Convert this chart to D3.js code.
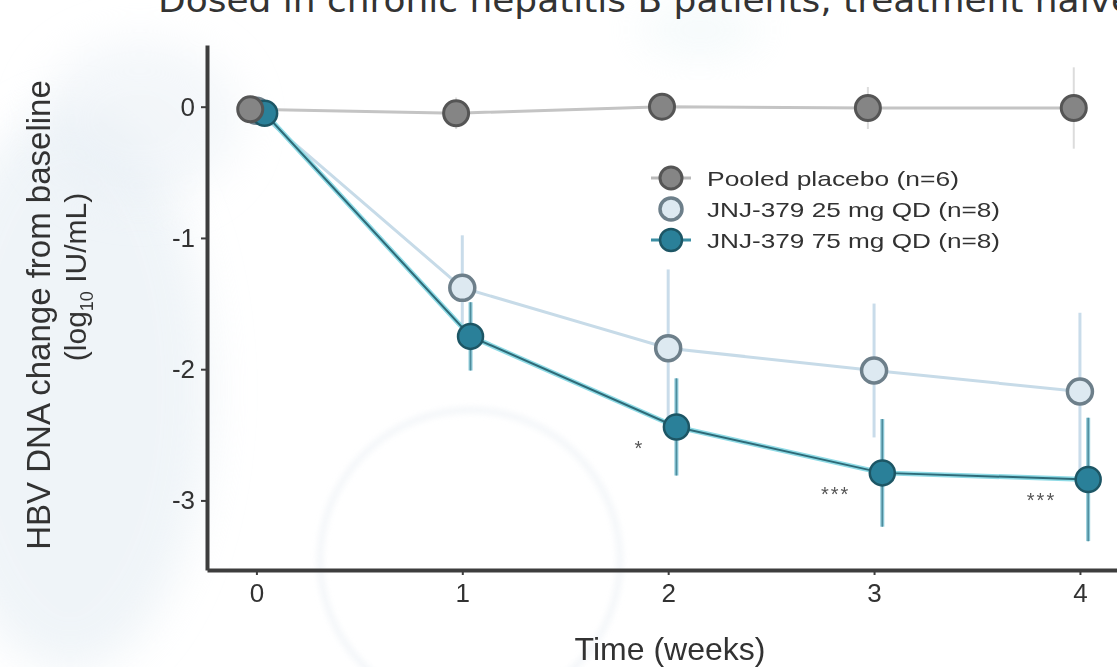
<!DOCTYPE html>
<html>
<head>
<meta charset="utf-8">
<script src="https://cdn.jsdelivr.net/npm/d3@7"></script>
<style>
  html, body { margin: 0; padding: 0; background: #ffffff; }
  svg { display: block; }
</style>
</head>
<body>
<svg id="chart" width="1117" height="667"></svg>
<script>
// Study visits (weeks) and mean change from baseline in HBV DNA (log10 IU/mL)
const weeks = [0, 1, 2, 3, 4];
const placeboMean = [-0.02, -0.05, 0.00, -0.01, -0.01];
const placeboSD   = [0, 0.12, 0.10, 0.16, 0.31];
const dose25Mean  = [-0.03, -1.38, -1.84, -2.01, -2.17];
const dose25SD    = [0, 0.40, 0.60, 0.51, 0.60];
const dose75Mean  = [-0.05, -1.75, -2.44, -2.79, -2.84];
const dose75SD    = [0, 0.26, 0.37, 0.41, 0.47];
const significance = ["", "", "*", "***", "***"];

const seriesNames = ["Pooled placebo (n=6)", "JNJ-379 25 mg QD (n=8)", "JNJ-379 75 mg QD (n=8)"];
const yTicks = [0, -1, -2, -3];
const xTicks = [0, 1, 2, 3, 4];
const titleText = "Dosed in chronic hepatitis B patients, treatment naïve";

const svg = d3.select("#chart");
const W = 1117, H = 667;

const defs = svg.append("defs");
defs.append("filter").attr("id", "soft")
  .attr("x", "-5%").attr("y", "-5%").attr("width", "110%").attr("height", "110%")
  .append("feGaussianBlur").attr("stdDeviation", 0.75);
defs.append("filter").attr("id", "haze")
  .attr("x", "-50%").attr("y", "-50%").attr("width", "200%").attr("height", "200%")
  .append("feGaussianBlur").attr("stdDeviation", 22);
defs.append("filter").attr("id", "faint")
  .append("feGaussianBlur").attr("stdDeviation", 3);

// faint slide backdrop
const bg = svg.append("g");
bg.append("rect").attr("width", W).attr("height", H).attr("fill", "#ffffff");
bg.append("ellipse").attr("cx", 70).attr("cy", 390).attr("rx", 140).attr("ry", 280)
  .attr("fill", "#e3ecf3").attr("opacity", 0.55).attr("filter", "url(#haze)");
bg.append("ellipse").attr("cx", 140).attr("cy", 120).attr("rx", 100).attr("ry", 80)
  .attr("fill", "#e8eff5").attr("opacity", 0.5).attr("filter", "url(#haze)");
bg.append("ellipse").attr("cx", 700).attr("cy", 30).attr("rx", 60).attr("ry", 25)
  .attr("fill", "#e6f3f5").attr("opacity", 0.45).attr("filter", "url(#haze)");
bg.append("circle").attr("cx", 470).attr("cy", 560).attr("r", 150)
  .attr("fill", "none").attr("stroke", "#e6ecf2").attr("stroke-width", 5)
  .attr("opacity", 0.6).attr("filter", "url(#faint)");

// slide heading, clipped at the top edge
svg.append("text")
  .attr("x", 158).attr("y", 12)
  .attr("font-family", "'DejaVu Sans', 'Liberation Sans', sans-serif")
  .attr("font-size", 34)
  .attr("fill", "#333333")
  .attr("textLength", 975).attr("lengthAdjust", "spacingAndGlyphs")
  .text(titleText);

const g = svg.append("g").attr("filter", "url(#soft)");

const x = d3.scaleLinear().domain([-0.24, 4.18]).range([207, 1117]);
const y = d3.scaleLinear().domain([0.47, -3.53]).range([45, 570]);

const dodge = { placebo: -0.03, d25: 0, d75: 0.04 };
const font = "'Liberation Sans', Arial, sans-serif";

// axes
const yAxis = g.append("g").attr("transform", `translate(${x.range()[0]},0)`)
  .call(d3.axisLeft(y).tickValues(yTicks).tickSize(6).tickSizeOuter(0)
    .tickFormat(d => d < 0 ? "-" + Math.abs(d) : String(d)));
const xAxis = g.append("g").attr("transform", `translate(0,${y.range()[1]})`)
  .call(d3.axisBottom(x).tickValues(xTicks).tickSize(5).tickSizeOuter(0)
    .tickFormat(d3.format("d")));

[yAxis, xAxis].forEach(a => {
  a.select(".domain").attr("stroke", "#3d3d3d").attr("stroke-width", 4);
  a.selectAll(".tick line").attr("stroke", "#3d3d3d").attr("stroke-width", 2);
  a.selectAll(".tick text").attr("font-family", font).attr("font-size", 26).attr("fill", "#333");
});
yAxis.selectAll(".tick text").attr("x", -12);
xAxis.selectAll(".tick text").attr("y", 14);

// axis titles
g.append("text")
  .attr("transform", `translate(50,${315}) rotate(-90)`)
  .attr("text-anchor", "middle")
  .attr("font-family", font).attr("font-size", 33).attr("fill", "#333")
  .text("HBV DNA change from baseline");
const yt2 = g.append("text")
  .attr("transform", `translate(86,${277}) rotate(-90)`)
  .attr("text-anchor", "middle")
  .attr("font-family", font).attr("font-size", 30).attr("fill", "#333");
yt2.append("tspan").text("(log");
yt2.append("tspan").attr("font-size", 18).attr("dy", 7).text("10");
yt2.append("tspan").attr("dy", -7).text(" IU/mL)");

g.append("text")
  .attr("x", 670).attr("y", 660)
  .attr("text-anchor", "middle")
  .attr("font-family", font).attr("font-size", 32).attr("fill", "#333")
  .text("Time (weeks)");

const rows = weeks.map((w, i) => ({
  w, i,
  p: placeboMean[i], pe: placeboSD[i],
  a: dose25Mean[i], ae: dose25SD[i],
  b: dose75Mean[i], be: dose75SD[i]
}));

const line = (key, off) => d3.line().x(d => x(d.w + off)).y(d => y(d[key]));

// error bars
function errBars(key, eKey, off, color, width) {
  g.append("g").selectAll("line")
    .data(rows.filter(d => d[eKey] > 0))
    .join("line")
    .attr("x1", d => x(d.w + off)).attr("x2", d => x(d.w + off))
    .attr("y1", d => y(d[key] + d[eKey])).attr("y2", d => y(d[key] - d[eKey]))
    .attr("stroke", color).attr("stroke-width", width);
}
errBars("p", "pe", dodge.placebo, "#dcdcdc", 2);
errBars("a", "ae", dodge.d25, "#c9dcea", 3);
errBars("b", "be", dodge.d75, "#8cc9d8", 4);
errBars("b", "be", dodge.d75, "#4f8c9c", 1.5);

// connecting lines
g.append("path").datum(rows).attr("d", line("p", dodge.placebo))
  .attr("fill", "none").attr("stroke", "#c4c4c4").attr("stroke-width", 3);
g.append("path").datum(rows).attr("d", line("a", dodge.d25))
  .attr("fill", "none").attr("stroke", "#c7dbe8").attr("stroke-width", 3);
g.append("path").datum(rows).attr("d", line("b", dodge.d75))
  .attr("fill", "none").attr("stroke", "#8fdbe6").attr("stroke-width", 5);
g.append("path").datum(rows).attr("d", line("b", dodge.d75))
  .attr("fill", "none").attr("stroke", "#2e6b78").attr("stroke-width", 2);

// markers
const R = 12.5;
function markers(key, off, fill, stroke, sw) {
  g.append("g").selectAll("circle").data(rows).join("circle")
    .attr("cx", d => x(d.w + off)).attr("cy", d => y(d[key]))
    .attr("r", R).attr("fill", fill).attr("stroke", stroke).attr("stroke-width", sw);
}
markers("a", dodge.d25, "#dde9f1", "#6d7f8a", 3.5);
markers("b", dodge.d75, "#2b8099", "#1f5665", 2.5);
markers("p", dodge.placebo, "#858585", "#555555", 3);

// significance marks
g.append("g").selectAll("text").data(rows.filter(d => significance[d.i]))
  .join("text")
  .attr("x", d => x(d.w + dodge.d75) - 32)
  .attr("y", d => y(d.b) + 28)
  .attr("text-anchor", "end")
  .attr("font-family", font).attr("font-size", 20).attr("fill", "#555")
  .attr("letter-spacing", 2)
  .text(d => significance[d.i]);

// legend
const legendStyle = [
  { line: "#b9b9b9", fill: "#858585", stroke: "#555555", sw: 3 },
  { line: "none", fill: "#dde9f1", stroke: "#6d7f8a", sw: 3.5 },
  { line: "#3a8ea3", fill: "#2b8099", stroke: "#1f5665", sw: 2.5 }
];
const legendTextLen = [252, 293, 293];
const lg = g.append("g").attr("transform", "translate(671,178)");
seriesNames.forEach((name, i) => {
  const row = lg.append("g").attr("transform", `translate(0,${i * 31})`);
  if (legendStyle[i].line !== "none") {
    row.append("line").attr("x1", -20).attr("x2", 20)
      .attr("stroke", legendStyle[i].line).attr("stroke-width", 3);
  }
  row.append("circle").attr("r", 11)
    .attr("fill", legendStyle[i].fill).attr("stroke", legendStyle[i].stroke)
    .attr("stroke-width", legendStyle[i].sw);
  row.append("text").attr("x", 36).attr("y", 8)
    .attr("font-family", font).attr("font-size", 21).attr("fill", "#333")
    .attr("textLength", legendTextLen[i]).attr("lengthAdjust", "spacingAndGlyphs")
    .text(name);
});
</script>
</body>
</html>
